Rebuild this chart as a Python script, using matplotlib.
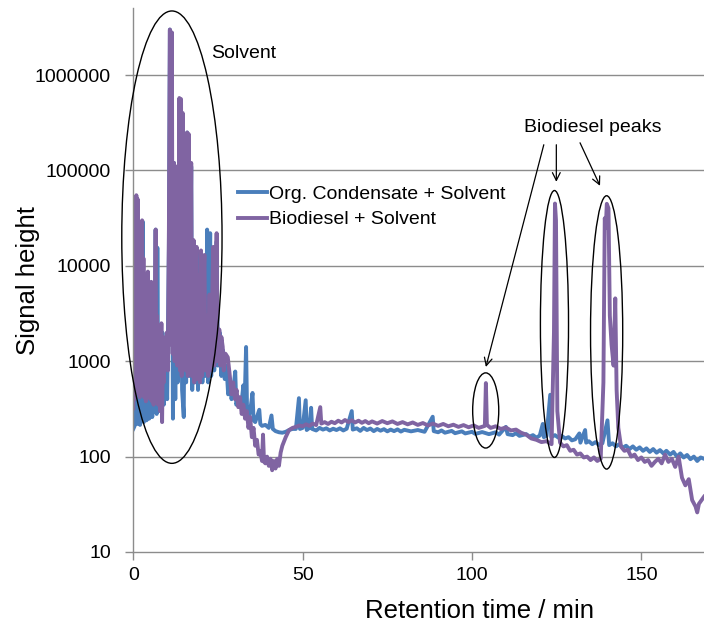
import numpy as np
import matplotlib
matplotlib.use("Agg")
import matplotlib.pyplot as plt
from matplotlib.patches import Ellipse
from matplotlib.ticker import FixedLocator, FixedFormatter, NullLocator

plt.rcParams['font.family'] = ['Liberation Sans', 'DejaVu Sans']

# --- data (retention time in min, signal height) ---
org_time = [0.0, 0.4, 0.9, 1.2, 1.6, 2.0, 2.4, 2.8, 3.1, 3.5, 3.9, 4.3, 4.7, 5.3, 5.6, 6.0, 6.3,
            6.6, 6.9, 7.1, 7.4, 7.8, 8.2, 8.6, 9.0, 9.5, 10.0, 10.5, 10.8, 11.2, 11.7, 12.0, 12.4,
            12.7, 13.1, 13.6, 14.0, 14.4, 14.9, 15.2, 15.6, 15.9, 16.3, 16.6, 17.1, 17.4, 17.8,
            18.2, 18.7, 19.1, 19.6, 20.0, 20.4, 21.0, 21.4, 21.8, 22.1, 22.7, 23.0, 23.6, 23.9,
            24.6, 25.0, 25.5, 26.0, 26.5, 27.0, 27.5, 28.0, 28.5, 29.0, 29.5, 30.1, 30.4, 31.0,
            31.5, 32.0, 32.5, 32.8, 33.3, 33.6, 34.0, 34.5, 35.2, 35.5, 36.0, 36.5, 37.2, 37.5,
            38.0, 39.0, 40.0, 40.8, 41.2, 42.0, 43.0, 44.0, 45.0, 46.0, 47.0, 48.0, 48.9, 49.2,
            50.0, 50.9, 51.2, 52.0, 52.5, 52.8, 54.0, 55.0, 56.0, 57.0, 58.0, 59.0, 60.0, 61.0,
            62.0, 63.0, 64.5, 64.8, 66.0, 67.0, 68.0, 69.0, 70.0, 71.0, 72.0, 73.0, 74.0, 75.0,
            76.0, 77.0, 78.0, 79.0, 80.0, 82.0, 84.0, 86.0, 88.4, 88.7, 90.0, 91.0, 92.0, 94.0,
            95.0, 97.0, 98.0, 100.0, 101.0, 103.0, 105.0, 107.0, 108.0, 110.0, 110.5, 112.0,
            113.0, 114.0, 116.0, 117.0, 118.0, 119.0, 120.0, 120.9, 121.2, 122.0, 123.1, 123.4,
            124.5, 125.5, 126.5, 127.5, 128.5, 129.5, 130.5, 131.7, 132.0, 133.4, 133.7, 134.5,
            135.5, 136.5, 137.5, 138.5, 140.0, 140.5, 141.5, 142.5, 143.5, 144.5, 145.5, 146.5,
            147.5, 148.5, 149.5, 150.5, 151.5, 152.5, 153.5, 154.5, 155.5, 156.5, 157.4, 158.5,
            159.5, 160.5, 161.5, 162.5, 163.5, 164.5, 165.5, 166.5, 167.5, 168.5]
org_signal = [195, 210, 40000, 220, 15000, 215, 5000, 29000, 230, 2500, 240, 6000, 250, 4100, 260,
              1500, 300, 24000, 280, 15500, 300, 1500, 320, 2000, 350, 1200, 400, 15000, 3000000,
              2500000, 250, 120000, 400, 100000, 600, 550000, 500000, 500, 260, 30000, 600, 250000,
              230000, 700, 110000, 500, 16000, 600, 15000, 500, 7000, 14000, 600, 12000, 700, 24000,
              600, 22000, 700, 14000, 800, 18000, 900, 2000, 700, 1300, 650, 900, 450, 600, 400,
              500, 780, 350, 400, 330, 380, 560, 300, 1410, 280, 260, 300, 465, 240, 230, 260, 310,
              220, 210, 215, 200, 270, 195, 185, 180, 178, 182, 190, 195, 195, 410, 195,
              200, 390, 190, 200, 325, 195, 188, 200, 192, 198, 188, 196, 190, 198,
              188, 196, 300, 192, 198, 186, 200, 190, 197, 185, 195, 187, 194, 184,
              192, 185, 193, 183, 191, 184, 190, 182, 262, 185, 180, 188, 178, 186,
              176, 184, 175, 182, 173, 181, 172, 180, 170, 205, 172, 168,
              176, 165, 172, 162, 168, 158, 166, 220, 160, 165, 445, 160,
              168, 158, 165, 155, 160, 148, 152, 175, 140, 190, 140, 145,
              135, 142, 132, 138, 240, 132, 138, 128, 135, 124, 130, 120,
              128, 118, 125, 115, 122, 112, 120, 110, 117, 108, 115, 105,
              112, 100, 108, 98, 104, 94, 100, 90, 98, 95]

bio_time = [0.0, 0.15, 0.3, 0.5, 0.7, 0.9, 1.1, 1.3, 1.5, 1.7, 1.9, 2.1, 2.3, 2.6, 2.8, 3.0, 3.2,
            3.5, 3.7, 4.0, 4.3, 4.5, 4.8, 5.0, 5.3, 5.5, 5.8, 6.0, 6.3, 6.6, 6.8, 7.0, 7.3, 7.6,
            7.9, 8.3, 8.5, 8.8, 9.0, 9.3, 9.6, 9.9, 10.2, 10.5, 10.8, 11.1, 11.4, 11.6, 12.0, 12.2,
            12.7, 13.0, 13.3, 13.6, 13.8, 14.1, 14.3, 14.6, 14.9, 15.2, 15.5, 15.9, 16.1, 16.4,
            16.7, 17.1, 17.3, 17.8, 18.0, 18.4, 18.7, 19.0, 19.4, 19.7, 20.0, 20.3, 20.7, 21.0,
            21.3, 21.8, 22.1, 22.5, 22.8, 23.2, 23.6, 23.9, 24.3, 24.6, 24.9, 25.4, 25.7, 26.0,
            26.4, 26.7, 27.2, 27.9, 28.5, 29.0, 29.5, 30.0, 30.5, 31.0, 31.5, 32.0, 32.5, 33.0,
            33.5, 34.0, 34.5, 35.0, 35.5, 36.0, 36.5, 37.0, 37.5, 38.0, 38.3, 38.6, 39.0, 39.5,
            40.0, 40.5, 41.0, 41.5, 42.0, 42.5, 43.0, 43.5, 44.0, 45.0, 46.0, 47.0, 48.0, 49.0,
            50.0, 51.0, 52.0, 53.0, 54.0, 55.2, 55.5, 56.5, 57.5, 58.5, 59.5, 60.5, 61.5, 62.5,
            63.5, 64.5, 65.5, 66.5, 67.5, 68.5, 69.5, 70.5, 72.0, 73.5, 75.0, 76.5, 78.0, 79.5,
            81.0, 82.5, 84.0, 85.5, 87.0, 88.5, 90.0, 91.5, 93.0, 94.5, 96.0, 97.5, 99.0, 100.5,
            102.0, 103.8, 104.1, 104.4, 105.5, 107.0, 108.5, 110.0, 111.5, 113.0, 114.5, 116.0,
            117.5, 119.0, 120.5, 122.0, 123.5, 124.2, 124.5, 124.8, 125.2, 126.0, 127.0, 128.0,
            129.0, 130.0, 131.0, 132.0, 133.0, 134.0, 135.0, 136.0, 137.0, 138.0, 138.8, 139.2,
            139.5, 139.8, 140.3, 140.7, 141.2, 141.8, 142.3, 142.7, 143.2, 144.0, 145.0, 146.0,
            147.0, 148.0, 149.0, 150.0, 151.0, 152.0, 153.0, 154.0, 155.0, 156.0, 157.0, 158.0,
            159.0, 160.0, 161.0, 162.0, 163.0, 164.0, 165.0, 166.0, 166.5, 167.0, 168.5]
bio_signal = [320, 5400, 400, 3000, 450, 55000, 600, 50000, 500, 20000, 420, 8000, 450, 30000, 500,
              12000, 420, 3000, 380, 2000, 8700, 450, 3500, 400, 6800, 380, 1500, 350, 2500, 24000,
              400, 3000, 350, 1200, 300, 2500, 230, 1800, 600, 1500, 1000, 2000, 800, 20000,
              3000000, 1500, 2800000, 1200, 120000, 1000, 110000, 900, 5000, 575000, 800, 560000,
              700, 400000, 900, 50000, 800, 250000, 700, 240000, 800, 120000, 700, 18600, 600,
              9000, 15800, 650, 8000, 600, 14500, 700, 6000, 13000, 800, 3000, 700, 5000, 800,
              3000, 15800, 900, 4000, 22000, 1000, 2150, 900, 1800, 1420, 800, 1200, 1100, 700,
              450, 600, 400, 500, 330, 420, 280, 350, 250, 300, 200, 260, 160, 200, 130, 150, 105,
              115, 90, 170, 88, 85, 100, 80, 95, 72, 90, 75, 95, 80, 110, 130, 160, 190, 200, 205,
              212, 208, 218, 210, 222, 214, 330, 222, 230, 220, 232, 224, 238, 228, 242,
              230, 240, 228, 238, 226, 236, 224, 234, 222, 236, 224, 234, 220, 230,
              218, 228, 215, 225, 212, 222, 210, 220, 208, 216, 205, 214, 203, 212,
              200, 210, 590, 215, 200, 208, 195, 202, 188, 192, 178, 170,
              155, 150, 142, 145, 135, 2000, 45000, 30000, 300, 140, 128, 132,
              115, 118, 105, 108, 98, 100, 92, 98, 90, 95, 600, 31600,
              25000, 44700, 40000, 3000, 1500, 900, 4560, 500, 200, 127, 115, 118,
              100, 105, 92, 98, 88, 92, 80, 88, 95, 85, 105, 88,
              95, 78, 100, 60, 50, 58, 35, 30, 26, 32, 38]

y_ticks = [10, 100, 1000, 10000, 100000, 1000000]
x_ticks = [0, 50, 100, 150]

# annotation ellipses: (t_left, t_right, signal_bottom, signal_top)
ellipses = [(-3.4, 26.2, 85, 4.7e6),
            (100.2, 107.9, 123, 755),
            (120.2, 128.5, 98, 61600),
            (135.0, 144.5, 74, 54300)]
# arrows from "Biodiesel peaks" label: ((t, signal) start, (t, signal) end)
arrows = [((121.2, 186000), (104.1, 870)),
          ((124.9, 186000), (124.9, 76000)),
          ((131.9, 195000), (137.8, 69000))]

blue = "#4A7EBB"
purple = "#8064A2"
grid_c = "#8C8C8C"

fig = plt.figure(figsize=(7.04, 6.30), dpi=100)
ax = fig.add_axes([133.3 / 704, 1 - 552 / 630, 1 - 133.3 / 704, (552 - 8.3) / 630])

ax.plot(org_time, org_signal, color=blue, lw=2.8, label="Org. Condensate + Solvent")
ax.plot(bio_time, bio_signal, color=purple, lw=2.8, label="Biodiesel + Solvent")

ax.set_yscale("log")
ax.set_ylim(10, 10 ** 6.70)
ax.set_xlim(0, 168.5)
ax.yaxis.set_major_locator(FixedLocator(y_ticks))
ax.yaxis.set_major_formatter(FixedFormatter([str(v) for v in y_ticks]))
ax.yaxis.set_minor_locator(NullLocator())
ax.set_xticks(x_ticks)
ax.set_xticklabels([str(v) for v in x_ticks])

for v in y_ticks[1:]:
    ax.axhline(v, color=grid_c, lw=1.0, zorder=0)

for s in ["top", "right"]:
    ax.spines[s].set_visible(False)
for s in ["left", "bottom"]:
    ax.spines[s].set_color(grid_c)
    ax.spines[s].set_linewidth(1.0)
ax.tick_params(axis="both", direction="out", length=6, width=1.0, color=grid_c,
               labelsize=14)
ax.tick_params(axis="y", pad=10)
ax.tick_params(axis="x", pad=5)

ax.set_ylabel("Signal height", fontsize=18.5)
ax.set_xlabel("Retention time / min", fontsize=18.5)
ax.yaxis.set_label_coords(-0.1635, 0.5)
ax.xaxis.set_label_coords(0.606, -0.086)

# ellipses drawn in axes fraction so they stay true ellipses on the log axis
to_axes = ax.transAxes.inverted()
fig.canvas.draw()
for tl, tr, yb, yt in ellipses:
    (x0, y0) = to_axes.transform(ax.transData.transform((tl, yb)))
    (x1, y1) = to_axes.transform(ax.transData.transform((tr, yt)))
    ax.add_patch(Ellipse(((x0 + x1) / 2, (y0 + y1) / 2), x1 - x0, y1 - y0,
                         transform=ax.transAxes, fill=False, ec="black", lw=1.0,
                         clip_on=False, zorder=5))

for start, end in arrows:
    ax.annotate("", xy=end, xytext=start,
                arrowprops=dict(arrowstyle="->", color="black", lw=0.9,
                                shrinkA=0, shrinkB=0, mutation_scale=14))

ax.text(22.9, 1.7e6, "Solvent", fontsize=14, ha="left", va="center")
ax.text(135.7, 285000, "Biodiesel peaks", fontsize=14, ha="center", va="center")

leg = ax.legend(loc="upper left", bbox_to_anchor=(238 / 704, 1 - 185 / 630),
                bbox_transform=fig.transFigure, frameon=False, fontsize=14,
                handlelength=1.5, handletextpad=0.1, labelspacing=0.42,
                borderpad=0, borderaxespad=0)

fig.savefig("out.png", dpi=100, facecolor="white")
